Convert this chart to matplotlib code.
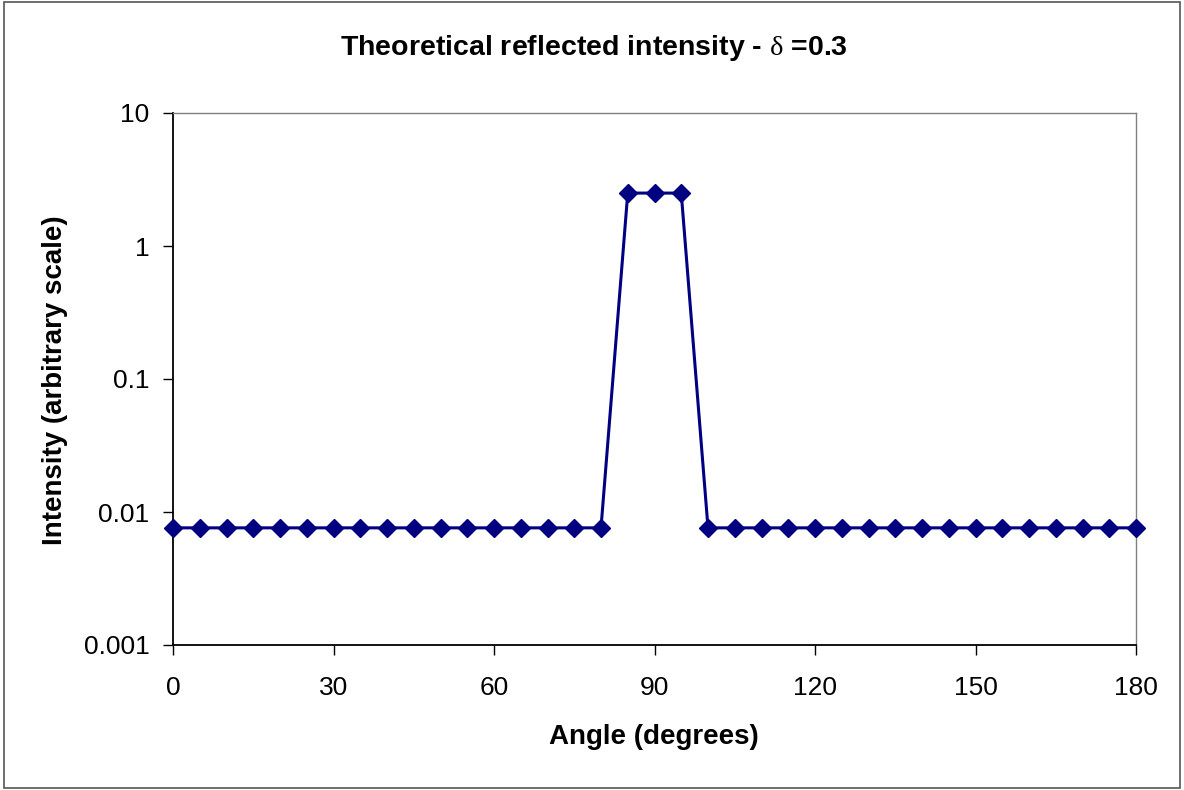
import matplotlib
matplotlib.use("Agg")
import matplotlib.pyplot as plt
from matplotlib.patches import Rectangle

angles = [0, 5, 10, 15, 20, 25, 30, 35, 40, 45, 50, 55, 60, 65, 70, 75, 80,
          85, 90, 95,
          100, 105, 110, 115, 120, 125, 130, 135, 140, 145, 150, 155, 160, 165, 170, 175, 180]
intensity = [0.0076] * 17 + [2.5, 2.5, 2.5] + [0.0076] * 17
x_ticks = [0, 30, 60, 90, 120, 150, 180]
y_ticks = [0.001, 0.01, 0.1, 1, 10]
y_tick_labels = ["0.001", "0.01", "0.1", "1", "10"]

plt.rcParams['font.family'] = ['Liberation Sans', 'DejaVu Sans']
plt.rcParams['mathtext.fontset'] = 'custom'
plt.rcParams['mathtext.rm'] = 'Liberation Serif'

fig = plt.figure(figsize=(11.84, 7.90), dpi=100)
fig.patches.append(Rectangle((0.003, 0.003), 0.994, 0.994, transform=fig.transFigure,
                             fill=False, edgecolor='#555555', linewidth=1.2))
ax = fig.add_axes([173/1184, 1 - 645/790, (1136-173)/1184, (645-113)/790])

ax.plot(angles, intensity, color='#000080', linewidth=2.2, marker='D',
        markersize=9.5, markerfacecolor='#000080', markeredgecolor='#000080',
        clip_on=False, zorder=3)

ax.set_yscale('log')
ax.set_ylim(0.001, 10)
ax.set_xlim(0, 180)
ax.set_xticks(x_ticks)
ax.set_xticklabels([str(t) for t in x_ticks])
ax.set_yticks(y_ticks)
ax.set_yticklabels(y_tick_labels)
ax.minorticks_off()
ax.tick_params(axis='both', direction='out', length=7, width=1, labelsize=19, color='black')
ax.tick_params(axis='x', pad=15)
ax.tick_params(axis='y', pad=10)

for s in ['left', 'bottom']:
    ax.spines[s].set_color('black')
    ax.spines[s].set_linewidth(1.3)
for s in ['top', 'right']:
    ax.spines[s].set_color('#808080')
    ax.spines[s].set_linewidth(1.0)

fig.text(594/1184, 1 - 48/790, r"Theoretical reflected intensity - $\mathrm{δ}$ =0.3",
         ha='center', va='center', fontsize=20.5, fontweight='bold')
fig.text(654/1184, 1 - 737/790, "Angle (degrees)", ha='center', va='center',
         fontsize=20, fontweight='bold')
fig.text(55/1184, 1 - 380/790, "Intensity (arbitrary scale)", ha='center', va='center',
         fontsize=20, fontweight='bold', rotation=90)

fig.savefig("out.png", dpi=100)
